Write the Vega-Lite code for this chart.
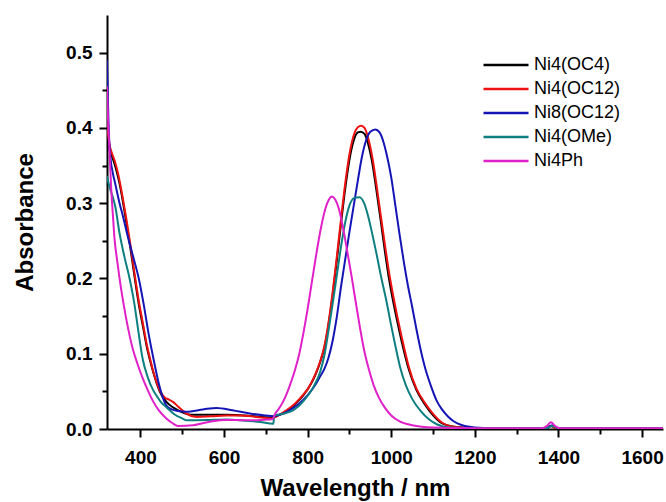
{
  "$schema": "https://vega.github.io/schema/vega-lite/v6.json",
  "width": 556,
  "height": 414,
  "autosize": {"type": "none"},
  "padding": {"left": 107, "top": 15, "right": 3, "bottom": 73},
  "background": "white",
  "config": {"view": {"stroke": null}, "font": "Liberation Sans"},
  "data": {"values": [
    {"s":"Ni4(OC4)","nm":320,"A":0.398},{"s":"Ni4(OC4)","nm":326,"A":0.372},{"s":"Ni4(OC4)","nm":332,"A":0.362},{"s":"Ni4(OC4)","nm":338,"A":0.352},{"s":"Ni4(OC4)","nm":344,"A":0.340},{"s":"Ni4(OC4)","nm":350,"A":0.326},{"s":"Ni4(OC4)","nm":358,"A":0.302},{"s":"Ni4(OC4)","nm":366,"A":0.275},{"s":"Ni4(OC4)","nm":376,"A":0.240},{"s":"Ni4(OC4)","nm":386,"A":0.202},{"s":"Ni4(OC4)","nm":396,"A":0.166},{"s":"Ni4(OC4)","nm":406,"A":0.136},{"s":"Ni4(OC4)","nm":416,"A":0.107},{"s":"Ni4(OC4)","nm":424,"A":0.089},{"s":"Ni4(OC4)","nm":434,"A":0.069},{"s":"Ni4(OC4)","nm":446,"A":0.050},{"s":"Ni4(OC4)","nm":462,"A":0.036},{"s":"Ni4(OC4)","nm":480,"A":0.028},{"s":"Ni4(OC4)","nm":500,"A":0.022},{"s":"Ni4(OC4)","nm":520,"A":0.019},{"s":"Ni4(OC4)","nm":560,"A":0.019},{"s":"Ni4(OC4)","nm":606,"A":0.019},{"s":"Ni4(OC4)","nm":650,"A":0.018},{"s":"Ni4(OC4)","nm":690,"A":0.016},{"s":"Ni4(OC4)","nm":716,"A":0.015},{"s":"Ni4(OC4)","nm":730,"A":0.018},{"s":"Ni4(OC4)","nm":750,"A":0.024},{"s":"Ni4(OC4)","nm":770,"A":0.033},{"s":"Ni4(OC4)","nm":790,"A":0.045},{"s":"Ni4(OC4)","nm":810,"A":0.062},{"s":"Ni4(OC4)","nm":820,"A":0.074},{"s":"Ni4(OC4)","nm":830,"A":0.089},{"s":"Ni4(OC4)","nm":840,"A":0.108},{"s":"Ni4(OC4)","nm":850,"A":0.139},{"s":"Ni4(OC4)","nm":860,"A":0.179},{"s":"Ni4(OC4)","nm":870,"A":0.225},{"s":"Ni4(OC4)","nm":880,"A":0.274},{"s":"Ni4(OC4)","nm":890,"A":0.320},{"s":"Ni4(OC4)","nm":900,"A":0.358},{"s":"Ni4(OC4)","nm":910,"A":0.383},{"s":"Ni4(OC4)","nm":920,"A":0.394},{"s":"Ni4(OC4)","nm":927,"A":0.395},{"s":"Ni4(OC4)","nm":936,"A":0.392},{"s":"Ni4(OC4)","nm":945,"A":0.378},{"s":"Ni4(OC4)","nm":955,"A":0.352},{"s":"Ni4(OC4)","nm":965,"A":0.315},{"s":"Ni4(OC4)","nm":975,"A":0.276},{"s":"Ni4(OC4)","nm":985,"A":0.235},{"s":"Ni4(OC4)","nm":995,"A":0.198},{"s":"Ni4(OC4)","nm":1005,"A":0.168},{"s":"Ni4(OC4)","nm":1015,"A":0.141},{"s":"Ni4(OC4)","nm":1025,"A":0.116},{"s":"Ni4(OC4)","nm":1042,"A":0.079},{"s":"Ni4(OC4)","nm":1060,"A":0.052},{"s":"Ni4(OC4)","nm":1080,"A":0.033},{"s":"Ni4(OC4)","nm":1100,"A":0.018},{"s":"Ni4(OC4)","nm":1120,"A":0.008},{"s":"Ni4(OC4)","nm":1150,"A":0.003},{"s":"Ni4(OC4)","nm":1200,"A":0.001},{"s":"Ni4(OC4)","nm":1370,"A":0.001},{"s":"Ni4(OC4)","nm":1382,"A":0.004},{"s":"Ni4(OC4)","nm":1395,"A":0.001},{"s":"Ni4(OC4)","nm":1650,"A":0.001},

    {"s":"Ni4(OC12)","nm":320,"A":0.406},{"s":"Ni4(OC12)","nm":326,"A":0.378},{"s":"Ni4(OC12)","nm":332,"A":0.366},{"s":"Ni4(OC12)","nm":338,"A":0.357},{"s":"Ni4(OC12)","nm":344,"A":0.345},{"s":"Ni4(OC12)","nm":350,"A":0.330},{"s":"Ni4(OC12)","nm":358,"A":0.306},{"s":"Ni4(OC12)","nm":366,"A":0.280},{"s":"Ni4(OC12)","nm":376,"A":0.245},{"s":"Ni4(OC12)","nm":386,"A":0.206},{"s":"Ni4(OC12)","nm":396,"A":0.170},{"s":"Ni4(OC12)","nm":406,"A":0.140},{"s":"Ni4(OC12)","nm":416,"A":0.110},{"s":"Ni4(OC12)","nm":424,"A":0.091},{"s":"Ni4(OC12)","nm":434,"A":0.070},{"s":"Ni4(OC12)","nm":446,"A":0.0515},{"s":"Ni4(OC12)","nm":458,"A":0.042},{"s":"Ni4(OC12)","nm":468,"A":0.039},{"s":"Ni4(OC12)","nm":478,"A":0.036},{"s":"Ni4(OC12)","nm":488,"A":0.031},{"s":"Ni4(OC12)","nm":500,"A":0.025},{"s":"Ni4(OC12)","nm":510,"A":0.0205},{"s":"Ni4(OC12)","nm":534,"A":0.016},{"s":"Ni4(OC12)","nm":570,"A":0.017},{"s":"Ni4(OC12)","nm":606,"A":0.018},{"s":"Ni4(OC12)","nm":640,"A":0.018},{"s":"Ni4(OC12)","nm":678,"A":0.016},{"s":"Ni4(OC12)","nm":714,"A":0.014},{"s":"Ni4(OC12)","nm":730,"A":0.018},{"s":"Ni4(OC12)","nm":750,"A":0.025},{"s":"Ni4(OC12)","nm":770,"A":0.034},{"s":"Ni4(OC12)","nm":790,"A":0.046},{"s":"Ni4(OC12)","nm":800,"A":0.053},{"s":"Ni4(OC12)","nm":810,"A":0.063},{"s":"Ni4(OC12)","nm":820,"A":0.075},{"s":"Ni4(OC12)","nm":830,"A":0.090},{"s":"Ni4(OC12)","nm":840,"A":0.110},{"s":"Ni4(OC12)","nm":850,"A":0.142},{"s":"Ni4(OC12)","nm":860,"A":0.183},{"s":"Ni4(OC12)","nm":870,"A":0.230},{"s":"Ni4(OC12)","nm":880,"A":0.280},{"s":"Ni4(OC12)","nm":890,"A":0.327},{"s":"Ni4(OC12)","nm":900,"A":0.365},{"s":"Ni4(OC12)","nm":910,"A":0.390},{"s":"Ni4(OC12)","nm":920,"A":0.401},{"s":"Ni4(OC12)","nm":928,"A":0.403},{"s":"Ni4(OC12)","nm":936,"A":0.400},{"s":"Ni4(OC12)","nm":945,"A":0.386},{"s":"Ni4(OC12)","nm":955,"A":0.360},{"s":"Ni4(OC12)","nm":965,"A":0.323},{"s":"Ni4(OC12)","nm":975,"A":0.283},{"s":"Ni4(OC12)","nm":985,"A":0.244},{"s":"Ni4(OC12)","nm":995,"A":0.207},{"s":"Ni4(OC12)","nm":1005,"A":0.176},{"s":"Ni4(OC12)","nm":1015,"A":0.148},{"s":"Ni4(OC12)","nm":1025,"A":0.122},{"s":"Ni4(OC12)","nm":1042,"A":0.0825},{"s":"Ni4(OC12)","nm":1060,"A":0.054},{"s":"Ni4(OC12)","nm":1080,"A":0.035},{"s":"Ni4(OC12)","nm":1100,"A":0.020},{"s":"Ni4(OC12)","nm":1120,"A":0.009},{"s":"Ni4(OC12)","nm":1150,"A":0.003},{"s":"Ni4(OC12)","nm":1200,"A":0.001},{"s":"Ni4(OC12)","nm":1370,"A":0.001},{"s":"Ni4(OC12)","nm":1382,"A":0.004},{"s":"Ni4(OC12)","nm":1395,"A":0.001},{"s":"Ni4(OC12)","nm":1650,"A":0.001},

    {"s":"Ni8(OC12)","nm":320,"A":0.490},{"s":"Ni8(OC12)","nm":322,"A":0.440},{"s":"Ni8(OC12)","nm":324,"A":0.400},{"s":"Ni8(OC12)","nm":328,"A":0.362},{"s":"Ni8(OC12)","nm":334,"A":0.340},{"s":"Ni8(OC12)","nm":340,"A":0.325},{"s":"Ni8(OC12)","nm":350,"A":0.300},{"s":"Ni8(OC12)","nm":358,"A":0.283},{"s":"Ni8(OC12)","nm":370,"A":0.255},{"s":"Ni8(OC12)","nm":382,"A":0.230},{"s":"Ni8(OC12)","nm":396,"A":0.200},{"s":"Ni8(OC12)","nm":408,"A":0.165},{"s":"Ni8(OC12)","nm":420,"A":0.125},{"s":"Ni8(OC12)","nm":432,"A":0.091},{"s":"Ni8(OC12)","nm":444,"A":0.060},{"s":"Ni8(OC12)","nm":454,"A":0.041},{"s":"Ni8(OC12)","nm":462,"A":0.031},{"s":"Ni8(OC12)","nm":475,"A":0.026},{"s":"Ni8(OC12)","nm":490,"A":0.024},{"s":"Ni8(OC12)","nm":510,"A":0.023},{"s":"Ni8(OC12)","nm":550,"A":0.026},{"s":"Ni8(OC12)","nm":582,"A":0.028},{"s":"Ni8(OC12)","nm":620,"A":0.025},{"s":"Ni8(OC12)","nm":662,"A":0.0205},{"s":"Ni8(OC12)","nm":700,"A":0.018},{"s":"Ni8(OC12)","nm":718,"A":0.017},{"s":"Ni8(OC12)","nm":740,"A":0.020},{"s":"Ni8(OC12)","nm":760,"A":0.026},{"s":"Ni8(OC12)","nm":780,"A":0.034},{"s":"Ni8(OC12)","nm":800,"A":0.045},{"s":"Ni8(OC12)","nm":820,"A":0.060},{"s":"Ni8(OC12)","nm":830,"A":0.070},{"s":"Ni8(OC12)","nm":840,"A":0.080},{"s":"Ni8(OC12)","nm":850,"A":0.095},{"s":"Ni8(OC12)","nm":860,"A":0.118},{"s":"Ni8(OC12)","nm":870,"A":0.150},{"s":"Ni8(OC12)","nm":880,"A":0.190},{"s":"Ni8(OC12)","nm":890,"A":0.226},{"s":"Ni8(OC12)","nm":900,"A":0.262},{"s":"Ni8(OC12)","nm":910,"A":0.296},{"s":"Ni8(OC12)","nm":920,"A":0.330},{"s":"Ni8(OC12)","nm":930,"A":0.362},{"s":"Ni8(OC12)","nm":940,"A":0.384},{"s":"Ni8(OC12)","nm":950,"A":0.395},{"s":"Ni8(OC12)","nm":962,"A":0.398},{"s":"Ni8(OC12)","nm":972,"A":0.394},{"s":"Ni8(OC12)","nm":982,"A":0.380},{"s":"Ni8(OC12)","nm":992,"A":0.357},{"s":"Ni8(OC12)","nm":1000,"A":0.334},{"s":"Ni8(OC12)","nm":1010,"A":0.296},{"s":"Ni8(OC12)","nm":1020,"A":0.258},{"s":"Ni8(OC12)","nm":1030,"A":0.222},{"s":"Ni8(OC12)","nm":1040,"A":0.190},{"s":"Ni8(OC12)","nm":1049,"A":0.165},{"s":"Ni8(OC12)","nm":1060,"A":0.133},{"s":"Ni8(OC12)","nm":1070,"A":0.106},{"s":"Ni8(OC12)","nm":1080,"A":0.083},{"s":"Ni8(OC12)","nm":1095,"A":0.057},{"s":"Ni8(OC12)","nm":1110,"A":0.036},{"s":"Ni8(OC12)","nm":1120,"A":0.027},{"s":"Ni8(OC12)","nm":1135,"A":0.017},{"s":"Ni8(OC12)","nm":1150,"A":0.010},{"s":"Ni8(OC12)","nm":1170,"A":0.005},{"s":"Ni8(OC12)","nm":1200,"A":0.002},{"s":"Ni8(OC12)","nm":1240,"A":0.001},{"s":"Ni8(OC12)","nm":1370,"A":0.001},{"s":"Ni8(OC12)","nm":1385,"A":0.005},{"s":"Ni8(OC12)","nm":1400,"A":0.001},{"s":"Ni8(OC12)","nm":1650,"A":0.001},

    {"s":"Ni4(OMe)","nm":320,"A":0.336},{"s":"Ni4(OMe)","nm":324,"A":0.326},{"s":"Ni4(OMe)","nm":328,"A":0.318},{"s":"Ni4(OMe)","nm":334,"A":0.308},{"s":"Ni4(OMe)","nm":340,"A":0.295},{"s":"Ni4(OMe)","nm":350,"A":0.260},{"s":"Ni4(OMe)","nm":362,"A":0.228},{"s":"Ni4(OMe)","nm":374,"A":0.200},{"s":"Ni4(OMe)","nm":385,"A":0.168},{"s":"Ni4(OMe)","nm":395,"A":0.130},{"s":"Ni4(OMe)","nm":405,"A":0.094},{"s":"Ni4(OMe)","nm":418,"A":0.068},{"s":"Ni4(OMe)","nm":430,"A":0.052},{"s":"Ni4(OMe)","nm":440,"A":0.043},{"s":"Ni4(OMe)","nm":450,"A":0.035},{"s":"Ni4(OMe)","nm":462,"A":0.029},{"s":"Ni4(OMe)","nm":480,"A":0.020},{"s":"Ni4(OMe)","nm":500,"A":0.014},{"s":"Ni4(OMe)","nm":510,"A":0.0117},{"s":"Ni4(OMe)","nm":560,"A":0.012},{"s":"Ni4(OMe)","nm":606,"A":0.0126},{"s":"Ni4(OMe)","nm":650,"A":0.011},{"s":"Ni4(OMe)","nm":686,"A":0.0094},{"s":"Ni4(OMe)","nm":718,"A":0.007},{"s":"Ni4(OMe)","nm":720,"A":0.018},{"s":"Ni4(OMe)","nm":740,"A":0.020},{"s":"Ni4(OMe)","nm":766,"A":0.025},{"s":"Ni4(OMe)","nm":790,"A":0.037},{"s":"Ni4(OMe)","nm":814,"A":0.056},{"s":"Ni4(OMe)","nm":830,"A":0.076},{"s":"Ni4(OMe)","nm":840,"A":0.098},{"s":"Ni4(OMe)","nm":850,"A":0.131},{"s":"Ni4(OMe)","nm":861,"A":0.171},{"s":"Ni4(OMe)","nm":870,"A":0.205},{"s":"Ni4(OMe)","nm":880,"A":0.243},{"s":"Ni4(OMe)","nm":890,"A":0.275},{"s":"Ni4(OMe)","nm":900,"A":0.297},{"s":"Ni4(OMe)","nm":912,"A":0.307},{"s":"Ni4(OMe)","nm":924,"A":0.308},{"s":"Ni4(OMe)","nm":935,"A":0.300},{"s":"Ni4(OMe)","nm":945,"A":0.282},{"s":"Ni4(OMe)","nm":955,"A":0.258},{"s":"Ni4(OMe)","nm":965,"A":0.232},{"s":"Ni4(OMe)","nm":975,"A":0.204},{"s":"Ni4(OMe)","nm":988,"A":0.171},{"s":"Ni4(OMe)","nm":1000,"A":0.137},{"s":"Ni4(OMe)","nm":1010,"A":0.110},{"s":"Ni4(OMe)","nm":1021,"A":0.0825},{"s":"Ni4(OMe)","nm":1035,"A":0.058},{"s":"Ni4(OMe)","nm":1050,"A":0.040},{"s":"Ni4(OMe)","nm":1070,"A":0.024},{"s":"Ni4(OMe)","nm":1090,"A":0.013},{"s":"Ni4(OMe)","nm":1110,"A":0.006},{"s":"Ni4(OMe)","nm":1140,"A":0.002},{"s":"Ni4(OMe)","nm":1200,"A":0.001},{"s":"Ni4(OMe)","nm":1370,"A":0.001},{"s":"Ni4(OMe)","nm":1385,"A":0.004},{"s":"Ni4(OMe)","nm":1400,"A":0.001},{"s":"Ni4(OMe)","nm":1650,"A":0.001},

    {"s":"Ni4Ph","nm":320,"A":0.455},{"s":"Ni4Ph","nm":322,"A":0.420},{"s":"Ni4Ph","nm":326,"A":0.370},{"s":"Ni4Ph","nm":330,"A":0.320},{"s":"Ni4Ph","nm":334,"A":0.285},{"s":"Ni4Ph","nm":338,"A":0.253},{"s":"Ni4Ph","nm":344,"A":0.225},{"s":"Ni4Ph","nm":350,"A":0.200},{"s":"Ni4Ph","nm":360,"A":0.165},{"s":"Ni4Ph","nm":370,"A":0.135},{"s":"Ni4Ph","nm":380,"A":0.110},{"s":"Ni4Ph","nm":392,"A":0.088},{"s":"Ni4Ph","nm":405,"A":0.068},{"s":"Ni4Ph","nm":418,"A":0.051},{"s":"Ni4Ph","nm":430,"A":0.037},{"s":"Ni4Ph","nm":445,"A":0.024},{"s":"Ni4Ph","nm":462,"A":0.014},{"s":"Ni4Ph","nm":476,"A":0.008},{"s":"Ni4Ph","nm":490,"A":0.004},{"s":"Ni4Ph","nm":526,"A":0.005},{"s":"Ni4Ph","nm":560,"A":0.009},{"s":"Ni4Ph","nm":598,"A":0.012},{"s":"Ni4Ph","nm":630,"A":0.012},{"s":"Ni4Ph","nm":662,"A":0.0115},{"s":"Ni4Ph","nm":690,"A":0.012},{"s":"Ni4Ph","nm":716,"A":0.013},{"s":"Ni4Ph","nm":722,"A":0.020},{"s":"Ni4Ph","nm":730,"A":0.026},{"s":"Ni4Ph","nm":740,"A":0.035},{"s":"Ni4Ph","nm":750,"A":0.047},{"s":"Ni4Ph","nm":760,"A":0.062},{"s":"Ni4Ph","nm":770,"A":0.079},{"s":"Ni4Ph","nm":780,"A":0.100},{"s":"Ni4Ph","nm":790,"A":0.128},{"s":"Ni4Ph","nm":800,"A":0.160},{"s":"Ni4Ph","nm":810,"A":0.195},{"s":"Ni4Ph","nm":820,"A":0.230},{"s":"Ni4Ph","nm":830,"A":0.262},{"s":"Ni4Ph","nm":840,"A":0.288},{"s":"Ni4Ph","nm":850,"A":0.304},{"s":"Ni4Ph","nm":858,"A":0.309},{"s":"Ni4Ph","nm":866,"A":0.305},{"s":"Ni4Ph","nm":875,"A":0.292},{"s":"Ni4Ph","nm":885,"A":0.266},{"s":"Ni4Ph","nm":895,"A":0.235},{"s":"Ni4Ph","nm":905,"A":0.203},{"s":"Ni4Ph","nm":914,"A":0.172},{"s":"Ni4Ph","nm":925,"A":0.135},{"s":"Ni4Ph","nm":935,"A":0.105},{"s":"Ni4Ph","nm":946,"A":0.080},{"s":"Ni4Ph","nm":958,"A":0.058},{"s":"Ni4Ph","nm":970,"A":0.042},{"s":"Ni4Ph","nm":985,"A":0.028},{"s":"Ni4Ph","nm":1000,"A":0.018},{"s":"Ni4Ph","nm":1020,"A":0.010},{"s":"Ni4Ph","nm":1050,"A":0.005},{"s":"Ni4Ph","nm":1100,"A":0.002},{"s":"Ni4Ph","nm":1200,"A":0.001},{"s":"Ni4Ph","nm":1360,"A":0.001},{"s":"Ni4Ph","nm":1372,"A":0.004},{"s":"Ni4Ph","nm":1382,"A":0.009},{"s":"Ni4Ph","nm":1392,"A":0.004},{"s":"Ni4Ph","nm":1404,"A":0.001},{"s":"Ni4Ph","nm":1650,"A":0.001}
  ]},
  "mark": {"type": "line", "strokeWidth": 2, "interpolate": "monotone", "clip": true},
  "encoding": {
    "x": {
      "field": "nm", "type": "quantitative",
      "scale": {"domain": [320, 1650], "nice": false, "zero": false},
      "axis": {
        "title": "Wavelength / nm",
        "titleX": 248,
        "values": [400, 500, 600, 700, 800, 900, 1000, 1100, 1200, 1300, 1400, 1500, 1600],
        "labelExpr": "datum.value % 200 == 0 ? datum.label : ''",
        "format": "d",
        "grid": false,
        "domainColor": "black", "domainWidth": 2,
        "tickColor": "black", "tickWidth": 2,
        "tickSize": {"condition": {"test": "datum.value % 200 == 0", "value": 8}, "value": 5},
        "labelFont": "Liberation Sans", "labelFontSize": 19, "labelFontWeight": "bold", "labelColor": "black",
        "labelPadding": 11, "labelFlush": false,
        "titleFont": "Liberation Sans", "titleFontSize": 24, "titleFontWeight": "bold", "titleColor": "black",
        "titlePadding": 9
      }
    },
    "y": {
      "field": "A", "type": "quantitative",
      "scale": {"domain": [0, 0.55], "nice": false},
      "axis": {
        "title": "Absorbance",
        "values": [0, 0.05, 0.1, 0.15, 0.2, 0.25, 0.3, 0.35, 0.4, 0.45, 0.5],
        "labelExpr": "abs(datum.value * 10 - round(datum.value * 10)) < 0.001 ? format(datum.value, '.1f') : ''",
        "grid": false,
        "domainColor": "black", "domainWidth": 2,
        "tickColor": "black", "tickWidth": 2,
        "tickSize": {"condition": {"test": "abs(datum.value * 10 - round(datum.value * 10)) < 0.001", "value": 8}, "value": 5},
        "labelFont": "Liberation Sans", "labelFontSize": 19, "labelFontWeight": "bold", "labelColor": "black",
        "labelPadding": 7, "labelFlush": false,
        "titleFont": "Liberation Sans", "titleFontSize": 24, "titleFontWeight": "bold", "titleColor": "black",
        "titlePadding": 28
      }
    },
    "color": {
      "field": "s", "type": "nominal",
      "scale": {
        "domain": ["Ni4(OC4)", "Ni4(OC12)", "Ni8(OC12)", "Ni4(OMe)", "Ni4Ph"],
        "range": ["#000000", "#ee1111", "#1515b5", "#0e7f80", "#e020c8"]
      },
      "legend": {
        "title": null,
        "orient": "none",
        "legendX": 375,
        "legendY": 41,
        "symbolType": "stroke",
        "symbolSize": 2025,
        "symbolStrokeWidth": 2.5,
        "clipHeight": 18,
        "rowPadding": 6,
        "labelOffset": 4,
        "labelFont": "Liberation Sans",
        "labelFontSize": 18,
        "labelColor": "black",
        "labelLimit": 300
      }
    }
  }
}
